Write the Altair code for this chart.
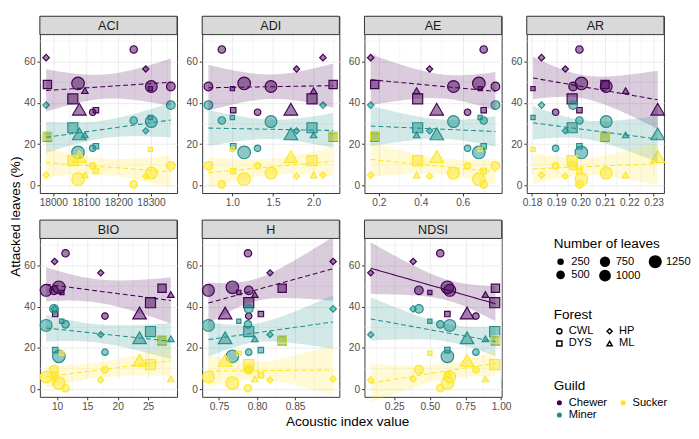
import altair as alt
import numpy as np
import pandas as pd

# ---------------- data ----------------
index_names = ["ACI", "ADI", "AE", "AR", "BIO", "H", "NDSI"]

# one entry per study site
site_forest = ["DYS", "HP", "HP", "CWL", "DYS", "CWL", "CWL", "DYS", "CWL", "CWL", "DYS", "ML", "ML"]
site_leaves = [60, 250, 220, 250, 700, 500, 350, 150, 1150, 1000, 450, 250, 1350]

chewer = [47, 62, 56.5, 35.5, 42, 48, 66, 36.5, 49.5, 48, 49, 46, 37]
miner = [33, 39, 26.5, 18, 28, 39, 31.5, 19, 16, 31, 23.5, 24.5, 25]
sucker = [17.5, 5, 4.5, 9.5, 12, 9.5, 0.5, 7, 3, 6, 24, 5, 14]

aci = [18298, 17978, 18284, 18121, 18060, 18361, 18247, 18131, 18076, 18301, 17982, 18097, 18080]
adi = [1.00, 2.115, 1.79, 1.31, 1.98, 0.705, 0.87, 1.01, 1.145, 1.475, 2.24, 2.0, 1.72]
ae = [0.683, 0.161, 0.442, 0.623, 0.385, 0.756, 0.70, 0.70, 0.677, 0.556, 0.18, 0.38, 0.476]
ar = [0.1804, 0.1839, 0.1937, 0.1897, 0.1965, 0.1969, 0.1995, 0.1995, 0.2003, 0.2105, 0.21, 0.2185, 0.2317]
bio = [10.8, 9.6, 17.2, 17.9, 25.4, 9.5, 11.4, 9.7, 10.3, 8.2, 27.3, 28.75, 23.6]
h_idx = [0.776, 0.900, 0.817, 0.789, 0.789, 0.789, 0.788, 0.805, 0.7675, 0.736, 0.833, 0.797, 0.758]
ndsi = [0.50, 0.383, 0.085, 0.823, 0.955, 0.423, 0.573, 0.623, 0.623, 0.64, 0.96, 0.89, 0.761]

index_values = {"ACI": aci, "ADI": adi, "AE": ae, "AR": ar, "BIO": bio, "H": h_idx, "NDSI": ndsi}

guilds = ["Chewer", "Miner", "Sucker"]
guild_colors = ["#440154", "#21908C", "#FDE725"]
guild_values = {"Chewer": chewer, "Miner": miner, "Sucker": sucker}
forests = ["CWL", "DYS", "HP", "ML"]
forest_shapes = ["circle", "square", "diamond", "triangle-up"]
significant = [("NDSI", "Chewer")]

major_ticks = {
    "ACI": [18000, 18100, 18200, 18300],
    "ADI": [1.0, 1.5, 2.0],
    "AE": [0.2, 0.4, 0.6],
    "AR": [0.18, 0.19, 0.20, 0.21, 0.22, 0.23],
    "BIO": [10, 15, 20, 25],
    "H": [0.75, 0.80, 0.85],
    "NDSI": [0.25, 0.50, 0.75, 1.00],
}
tick_format = {"ACI": "d", "ADI": ".1f", "AE": ".1f", "AR": ".2f", "BIO": "d", "H": ".2f", "NDSI": ".2f"}
y_major = [0, 20, 40, 60]
y_minor = [10, 30, 50, 70]
size_legend_values = [250, 500, 750, 1000, 1250]

# ---------------- derived tables ----------------
n_sites = len(site_forest)
rows = []
for idx in index_names:
    for g in guilds:
        for i in range(n_sites):
            rows.append(dict(idx=idx, guild=g, x=index_values[idx][i], y=guild_values[g][i],
                             forest=site_forest[i], leaves=site_leaves[i]))
points = pd.DataFrame(rows)

T975 = 2.201  # t quantile, df = n - 2 = 11
fit_rows = []
for idx in index_names:
    for g in guilds:
        x = np.asarray(index_values[idx], float)
        y = np.asarray(guild_values[g], float)
        b, a = np.polyfit(x, y, 1)
        res = y - (a + b * x)
        s = np.sqrt((res ** 2).sum() / (len(x) - 2))
        xm = x.mean()
        sxx = ((x - xm) ** 2).sum()
        gx = np.linspace(x.min(), x.max(), 80)
        yh = a + b * gx
        se = s * np.sqrt(1.0 / len(x) + (gx - xm) ** 2 / sxx)
        sig = "yes" if (idx, g) in significant else "no"
        for xx, yy, ss in zip(gx, yh, se):
            fit_rows.append(dict(idx=idx, guild=g, x=xx, yhat=yy, lo=yy - T975 * ss, hi=yy + T975 * ss, sig=sig))
fits = pd.DataFrame(fit_rows)

# ---------------- layout / style ----------------
W, HV, STRIP = 142, 183, 19
YDOM = [-3.7, 73.2]
FONT = "Liberation Sans"

guild_scale = alt.Scale(domain=guilds, range=guild_colors)
shape_scale = alt.Scale(domain=forests, range=forest_shapes)
size_scale = alt.Scale(domain=[50, 1400], range=[18, 205], zero=False)
dash_scale = alt.Scale(domain=["yes", "no"], range=[[1, 0], [5, 3]])

leg_common = dict(orient="none", titleFontSize=14, titleFontWeight="normal", titleColor="black",
                  labelFontSize=11.5, labelColor="black", titleFont=FONT, labelFont=FONT,
                  rowPadding=0, titlePadding=4, padding=0)
size_legend = alt.Legend(title="Number of leaves", legendX=532, legendY=229, values=size_legend_values,
                         format="d", columns=3, columnPadding=8, symbolType="circle",
                         symbolFillColor="black", symbolStrokeColor="black", symbolStrokeWidth=0,
                         symbolOpacity=1, **leg_common)
shape_legend = alt.Legend(title="Forest", legendX=532, legendY=302, columns=2, columnPadding=10,
                          symbolSize=28, symbolFillColor="white", symbolStrokeColor="black",
                          symbolStrokeWidth=1.5, symbolOpacity=1, **leg_common)
guild_legend = alt.Legend(title="Guild", legendX=532, legendY=376, columns=2, columnPadding=10,
                          symbolType="circle", symbolSize=28, symbolStrokeWidth=0, symbolOpacity=1,
                          **leg_common)


def xdomain(vals):
    lo, hi = min(vals), max(vals)
    pad = 0.05 * (hi - lo)
    return [lo - pad, hi + pad]


def minor_of(majors, dom):
    step = majors[1] - majors[0]
    cand = [m + step / 2 for m in [majors[0] - step] + majors]
    return [c for c in cand if dom[0] < c < dom[1]]


one_row = pd.DataFrame({"k": [0]})


def make_panel(k, idx):
    dom = xdomain(index_values[idx])
    xs = alt.Scale(domain=dom, nice=False, zero=False)
    ys = alt.Scale(domain=YDOM, range=[HV, STRIP], nice=False, zero=False)
    xax_kw = dict(values=major_ticks[idx], format=tick_format[idx], grid=True, gridColor="#EBEBEB",
                  gridWidth=1, domain=False, tickColor="#333333", tickSize=3, tickWidth=1,
                  labelFontSize=10.5, labelColor="#4D4D4D", labelPadding=2, labelFlush=False,
                  labelOverlap=False, labelFont=FONT)
    xtitle = None
    if idx == "H":
        xtitle = "Acoustic index value"
        xax_kw.update(titleX=150, titleY=19, titleAlign="center", titleBaseline="top",
                      titleFontSize=14, titleFontWeight="normal", titleColor="black", titleFont=FONT)
    yax_kw = dict(values=y_major, grid=True, gridColor="#EBEBEB", gridWidth=1, domain=False,
                  tickColor="#333333", tickSize=3, tickWidth=1, labelFontSize=10.5,
                  labelColor="#4D4D4D", labelPadding=2, labelFont=FONT)
    ytitle = None
    if k == 0:
        ytitle = "Attacked leaves (%)"
        yax_kw.update(titleX=-18, titleY=207, titleAngle=270, titleAlign="center",
                      titleBaseline="bottom", titleFontSize=14, titleFontWeight="normal",
                      titleColor="black", titleFont=FONT)
    xax = alt.Axis(**xax_kw)
    yax = alt.Axis(**yax_kw)

    def X(f):
        return alt.X(f, type="quantitative", scale=xs, axis=xax, title=xtitle)

    def Y(f):
        return alt.Y(f, type="quantitative", scale=ys, axis=yax, title=ytitle)

    xminor = alt.Chart(pd.DataFrame({"v": minor_of(major_ticks[idx], dom)})).mark_rule(
        color="#EBEBEB", strokeWidth=0.5).encode(x=X("v"))
    yminor = alt.Chart(pd.DataFrame({"v": y_minor})).mark_rule(
        color="#EBEBEB", strokeWidth=0.5).encode(y=Y("v"))

    pts = alt.Chart(points[points.idx == idx]).mark_point(
        filled=True, fillOpacity=0.5, strokeWidth=1.2, opacity=1).encode(
        x=X("x"), y=Y("y"),
        color=alt.Color("guild:N", scale=guild_scale, legend=guild_legend),
        stroke=alt.Stroke("guild:N", scale=guild_scale, legend=None),
        shape=alt.Shape("forest:N", scale=shape_scale, legend=shape_legend),
        size=alt.Size("leaves:Q", scale=size_scale, legend=size_legend),
    )
    fd = fits[fits.idx == idx]
    band = alt.Chart(fd).mark_area(opacity=0.2).encode(
        x=X("x"), y=Y("lo"), y2="hi",
        fill=alt.Fill("guild:N", scale=guild_scale, legend=None))
    line = alt.Chart(fd).mark_line(strokeWidth=1.1).encode(
        x=X("x"), y=Y("yhat"),
        stroke=alt.Stroke("guild:N", scale=guild_scale, legend=None),
        strokeDash=alt.StrokeDash("sig:N", scale=dash_scale, legend=None))

    strip = alt.Chart(one_row).mark_rect(fill="#D9D9D9", stroke="#333333", strokeWidth=1).encode(
        x=alt.value(0), x2=alt.value(W), y=alt.value(0), y2=alt.value(STRIP))
    strip_txt = alt.Chart(one_row).mark_text(fontSize=13, color="#1A1A1A", font=FONT,
                                             baseline="middle", align="center").encode(
        x=alt.value(W / 2), y=alt.value(STRIP / 2 + 0.5), text=alt.value(idx))

    return alt.layer(xminor, yminor, pts, band, line, strip, strip_txt).properties(width=W, height=HV)


panels = [make_panel(k, idx) for k, idx in enumerate(index_names)]

chart = alt.concat(*panels, columns=4, spacing={"row": 28, "column": 26}, bounds="flush").properties(
    padding=0, background="white"
).configure(font=FONT).configure_view(stroke="#333333", strokeWidth=1)

chart.save("out.html", embed_options={"renderer": "svg", "actions": False})
